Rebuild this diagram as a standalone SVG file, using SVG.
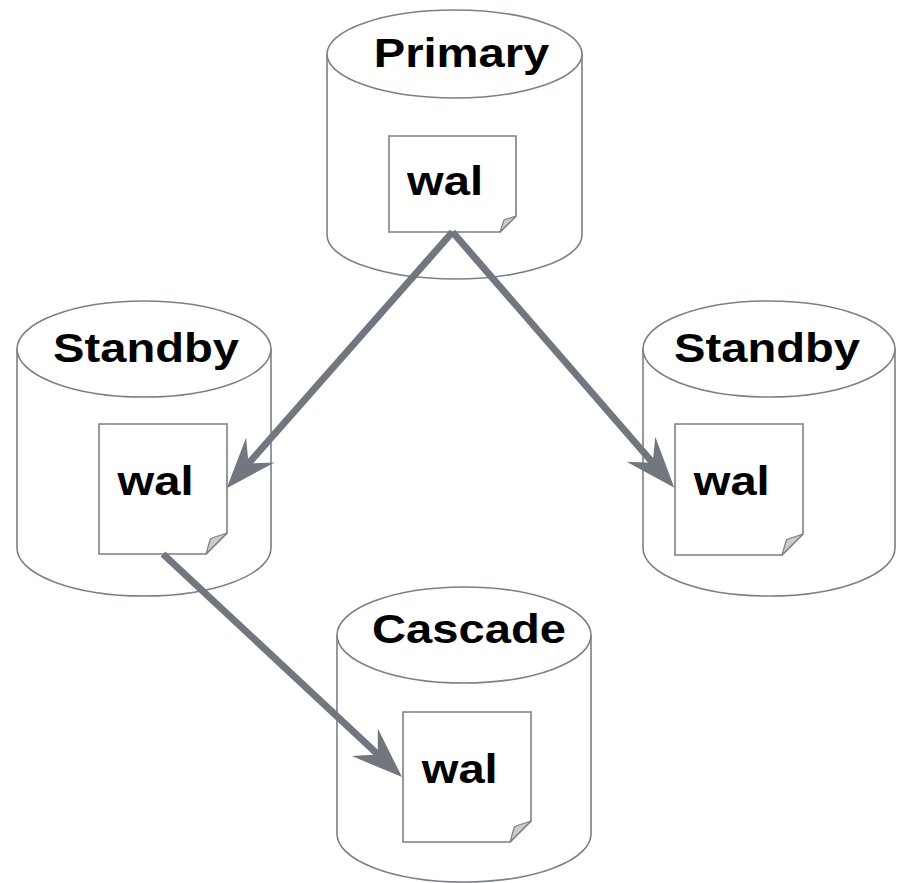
<svg xmlns="http://www.w3.org/2000/svg" width="901" height="883" viewBox="0 0 901 883">
  <style>
    .cyl { fill: #ffffff; stroke: #7b8088; stroke-width: 1.6; }
    .doc { fill: #ffffff; stroke: #7b8088; stroke-width: 1.6; stroke-linejoin: miter; }
    .fold { fill: #cccccc; stroke: #7b8088; stroke-width: 1.2; stroke-linejoin: round; }
    .lbl { font-family: "Liberation Sans", Arial, sans-serif; font-weight: bold; font-size: 41px; fill: #000000; text-anchor: middle; }
    .link { fill: none; stroke: #72777f; stroke-width: 7; stroke-linecap: butt; marker-end: url(#stealth); }
  </style>
  <defs>
    <marker id="stealth" markerUnits="userSpaceOnUse" viewBox="-54 -22 58 44" markerWidth="58" markerHeight="44" refX="-33" refY="0" orient="auto" overflow="visible">
      <path d="M0,0 L-51,-19 L-33,0 L-51,19 Z" fill="#72777f"/>
    </marker>
  </defs>

  <rect x="0" y="0" width="901" height="883" fill="#ffffff"/>

  <!-- Primary -->
  <g id="primary">
    <path class="cyl" d="M327,54 L327,235 A127.5,44 0 0 0 582,235 L582,54"/>
    <ellipse class="cyl" cx="454.5" cy="54" rx="127.5" ry="44"/>
    <text class="lbl" transform="translate(461.5,66.7) scale(1.15,1)">Primary</text>
    <path class="doc" d="M389,136 L516,136 L516,216 L500,232 L389,232 Z"/>
    <path class="fold" d="M516,216 L500,232 L504,220 Z"/>
    <text class="lbl" transform="translate(445,195) scale(1.15,1)">wal</text>
  </g>

  <!-- Standby (left) -->
  <g id="standby-left">
    <path class="cyl" d="M17,349 L17,548 A127,48 0 0 0 271,548 L271,349"/>
    <ellipse class="cyl" cx="144" cy="349" rx="127" ry="48"/>
    <text class="lbl" transform="translate(146,362) scale(1.15,1)">Standby</text>
    <path class="doc" d="M99,424 L227,424 L227,533 L206,554 L99,554 Z"/>
    <path class="fold" d="M227,533 L206,554 L210.5,538.5 Z"/>
    <text class="lbl" transform="translate(155.5,495) scale(1.15,1)">wal</text>
  </g>

  <!-- Standby (right) -->
  <g id="standby-right">
    <path class="cyl" d="M643,349 L643,548 A126,48 0 0 0 895,548 L895,349"/>
    <ellipse class="cyl" cx="769" cy="349" rx="126" ry="48"/>
    <text class="lbl" transform="translate(767,362) scale(1.15,1)">Standby</text>
    <path class="doc" d="M675,424 L803,424 L803,534 L782,555 L675,555 Z"/>
    <path class="fold" d="M803,534 L782,555 L786.5,539.5 Z"/>
    <text class="lbl" transform="translate(731.7,495) scale(1.15,1)">wal</text>
  </g>

  <!-- Cascade -->
  <g id="cascade">
    <path class="cyl" d="M337,635 L337,834 A127,48 0 0 0 591,834 L591,635"/>
    <ellipse class="cyl" cx="464" cy="635" rx="127" ry="48"/>
    <text class="lbl" transform="translate(469,643.3) scale(1.15,1)">Cascade</text>
    <path class="doc" d="M403,712 L531,712 L531,821 L510,842 L403,842 Z"/>
    <path class="fold" d="M531,821 L510,842 L514.5,826.5 Z"/>
    <text class="lbl" transform="translate(459.7,783.3) scale(1.15,1)">wal</text>
  </g>

  <!-- WAL shipping links -->
  <g id="connectors">
    <line class="link" x1="452.5" y1="232" x2="248.5" y2="463.5"/>
    <line class="link" x1="452.5" y1="232" x2="652.7" y2="462.8"/>
    <line class="link" x1="163" y1="554" x2="377.9" y2="754.5"/>
  </g>
</svg>
